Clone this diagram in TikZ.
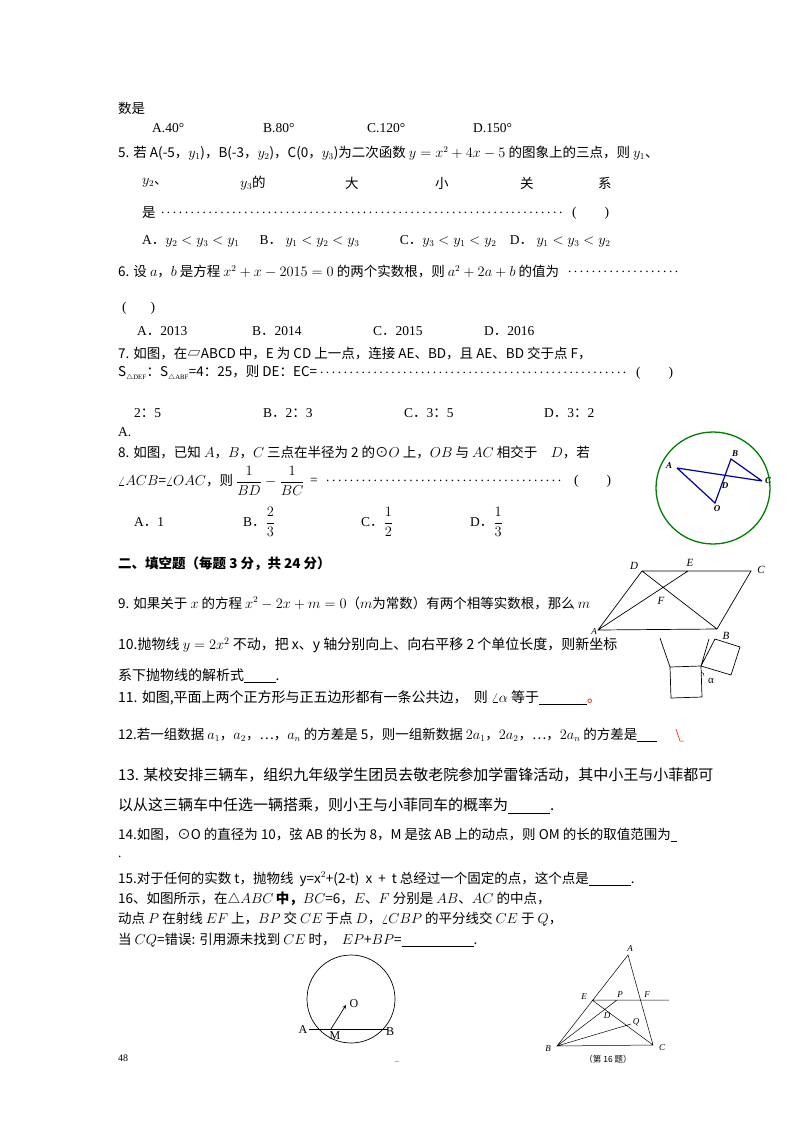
\documentclass[tikz,border=0pt]{standalone}
\usepackage{amsmath}
\usepackage{fontspec}
\setmainfont{Liberation Serif}
\newfontfamily\cjk{Noto Sans CJK SC}
\newcommand{\fp}{{\cjk ．}}
\newcommand{\fc}{{\cjk ：}}
\begin{document}
\begin{tikzpicture}[x=1pt,y=-1pt,
 t/.style={anchor=west,inner sep=0pt,font=\fontsize{13.5}{15}\selectfont},
 tl/.style={anchor=west,inner sep=0pt,font=\fontsize{15}{16}\selectfont},
 dots/.style={anchor=west,inner sep=0pt,font=\fontsize{13.5}{15}\selectfont},
 lab/.style={inner sep=0pt,font=\fontsize{9}{10}\selectfont\itshape},
 ln/.style={line width=0.7pt}]
\useasboundingbox[fill=white] (0,0) rectangle (800,1132);
\node[t] (l1) at (118,108) {\cjk 数是};
\node[t] (o1) at (152,128) {A.40°};
\node[t] (o2) at (263,128) {B.80°};
\node[t] (o3) at (367,128) {C.120°};
\node[t] (o4) at (473,128) {D.150°};
\node[t] (q5) at (118,153) {\cjk 5. 若 A(-5，$y_1$)，B(-3，$y_2$)，C(0，$y_3$)为二次函数 $y=x^2+4x-5$ 的图象上的三点，则 $y_1$、};
\node[t] (q5a) at (142,183) {$y_2$\cjk 、};
\node[t] (q5b) at (240,183) {$y_3$\cjk 的};
\node[t] (q5c) at (345,183) {\cjk 大};
\node[t] (q5d) at (435,183) {\cjk 小};
\node[t] (q5e) at (520,183) {\cjk 关};
\node[t] (q5f) at (598,183) {\cjk 系};
\node[t] (q5g) at (142,213) {\cjk 是};
\node[dots] (q5d1) at (158,213) {\makebox[407pt]{\dotfill}};
\node[t] (q5p) at (572,213) {(\hspace{28pt})};
\node[t] (q5o) at (142,241) {A\fp$y_2<y_3<y_1$\quad\ \ B\fp\ $y_1<y_2<y_3$\qquad\quad C\fp$y_3<y_1<y_2$\quad D\fp\ $y_1<y_3<y_2$};
\node[t] (q6) at (118,272) {\cjk 6. 设 $a$，$b$ 是方程 $x^2+x-2015=0$ 的两个实数根，则 $a^2+2a+b$ 的值为};
\node[dots] (q6d) at (566,272) {\makebox[114pt]{\dotfill}};
\node[t] (q6p) at (122,308) {(\hspace{24pt})};
\node[t] (q6o1) at (137,331) {A\fp 2013};
\node[t] (q6o2) at (252,331) {B\fp 2014};
\node[t] (q6o3) at (373,331) {C\fp 2015};
\node[t] (q6o4) at (484,331) {D\fp 2016};
\node[t] (q7) at (118,353) {\cjk 7. 如图，在▱ABCD 中，E 为 CD 上一点，连接 AE、BD，且 AE、BD 交于点 F，};
\node[t] (q7b) at (118,373) {\cjk S$_{\scriptscriptstyle\triangle\mathrm{DEF}}$：S$_{\scriptscriptstyle\triangle\mathrm{ABF}}$=4：25，则 DE：EC=};
\node[dots] (q7d) at (318,373) {\makebox[310pt]{\dotfill}};
\node[t] (q7p) at (636,373) {(\hspace{28pt})};
\node[t] (q7o1) at (134,413) {2\fc 5};
\node[t] (q7o2) at (263,413) {B\fp 2\fc 3};
\node[t] (q7o3) at (404,413) {C\fp 3\fc 5};
\node[t] (q7o4) at (544,413) {D\fp 3\fc 2};
\node[t] (q7A) at (118,432) {A.};
\node[t] (q8) at (118,452) {\cjk 8. 如图，已知 $A$，$B$，$C$ 三点在半径为 2 的⊙$O$ 上，$OB$ 与 $AC$ 相交于\quad $D$，若};
\node[t] (q8b) at (118,481) {\cjk $\angle ACB$=$\angle OAC$，则 $\dfrac{1}{BD}-\dfrac{1}{BC}$};
\node[t] (q8eq) at (310,481) {=};
\node[dots] (q8d) at (322,481) {\makebox[243pt]{\dotfill}};
\node[t] (q8p) at (574,481) {(\hspace{28pt})};
\node[t] (q8o1) at (134,522) {A\fp 1};
\node[t] (q8o2) at (243,522) {B\fp $\dfrac{2}{3}$};
\node[t] (q8o3) at (361,522) {C\fp $\dfrac{1}{2}$};
\node[t] (q8o4) at (470,522) {D\fp $\dfrac{1}{3}$};
\node[t] (s2) at (118,564) {\cjk\bfseries 二、填空题（每题 3 分，共 24 分）};
\node[t] (q9) at (118,603) {\cjk 9. 如果关于 $x$ 的方程 $x^2-2x+m=0$（$m$为常数）有两个相等实数根，那么 $m$};
\node[t,font=\fontsize{14}{15}\selectfont] (q10) at (118,645) {\cjk 10.抛物线 $y=2x^2$ 不动，把 x、y 轴分别向上、向右平移 2 个单位长度，则新坐标};
\node[t,font=\fontsize{14}{15}\selectfont] (q10b) at (118,676) {\cjk 系下抛物线的解析式\underline{\ \ \ \ \ \ \ \ \ \ }.};
\node[t,font=\fontsize{14}{15}\selectfont] (q11) at (118,698) {\cjk 11. 如图,平面上两个正方形与正五边形都有一条公共边，\ \ 则 $\angle\alpha$ 等于\underline{\hspace{48pt}}{\color{red}。}};
\node[t] (q12) at (118,735) {\cjk 12.若一组数据 $a_1$，$a_2$，…，$a_n$ 的方差是 5，则一组新数据 $2a_1$，$2a_2$，…，$2a_n$ 的方差是\underline{\hspace{20pt}}};
\node[tl] (q13) at (118,775) {\cjk 13. 某校安排三辆车，组织九年级学生团员去敬老院参加学雷锋活动，其中小王与小菲都可};
\node[tl] (q13b) at (118,806) {\cjk 以从这三辆车中任选一辆搭乘，则小王与小菲同车的概率为\underline{\hspace{42pt}}.};
\node[t] (q14) at (118,835) {\cjk 14.如图，⊙O 的直径为 10，弦 AB 的长为 8，M 是弦 AB 上的动点，则 OM 的长的取值范围为\underline{\ \ }};
\node[t] (q14b) at (118,857) {.};
\node[t] (q15) at (118,879) {\cjk 15.对于任何的实数 t，抛物线\ \ y=x$^2$+(2-t)\ \ x\ \ +\ \ t 总经过一个固定的点，这个点是\underline{\hspace{42pt}}.};
\node[t] (q16) at (118,899) {\cjk 16、如图所示，在$\triangle ABC$\,\bfseries 中，\mdseries $BC$=6，$E$、$F$ 分别是 $AB$、$AC$ 的中点，};
\node[t] (q16b) at (118,919) {\cjk 动点 $P$ 在射线 $EF$ 上，$BP$ 交 $CE$ 于点 $D$，$\angle CBP$ 的平分线交 $CE$ 于 $Q$，};
\node[t] (q16c) at (118,940) {\cjk 当 $CQ$=错误: 引用源未找到 $CE$ 时，\ \ $EP$+$BP$=\underline{\hspace{72pt}}.};
\node[t] (pg) at (118,1058) {\fontsize{10}{11}\selectfont 48};
\node[t] (dd) at (395,1062) {\fontsize{8}{9}\selectfont ..};
% Q8 circle
\draw[green!50!black,line width=1.3pt] (713,488) ellipse (57 and 56);
\coordinate (cA) at (677,468); \coordinate (cB) at (731,459); \coordinate (cC) at (762,481);
\coordinate (cO) at (715,503); \coordinate (cD) at (726,476);
\draw[blue!60!black,line width=1.2pt] (cA)--(cC) (cA)--(cO)--(cB)--(cC);
\node[lab,font=\fontsize{9}{10}\selectfont\bfseries\itshape] at (669,466) {A};
\node[lab,font=\fontsize{9}{10}\selectfont\bfseries\itshape] at (735,454) {B};
\node[lab,font=\fontsize{9}{10}\selectfont\bfseries\itshape] at (768,481) {C};
\node[lab,font=\fontsize{9}{10}\selectfont\bfseries\itshape] at (725,486) {D};
\node[lab,font=\fontsize{9}{10}\selectfont\bfseries\itshape] at (717,509) {O};
% parallelogram
\coordinate (pD) at (642,571); \coordinate (pE) at (688,571); \coordinate (pC) at (751,571);
\coordinate (pA) at (598,630); \coordinate (pB) at (717,629);
\draw[ln] (pA)--(pB)--(pC)--(pD)--cycle (pD)--(pB) (pA)--(pE);
\node[lab,font=\fontsize{11}{12}\selectfont\itshape] at (634,566) {D};
\node[lab,font=\fontsize{11}{12}\selectfont\itshape] at (690,563) {E};
\node[lab,font=\fontsize{11}{12}\selectfont\itshape] at (761,570) {C};
\node[lab,font=\fontsize{11}{12}\selectfont\itshape] at (661,601) {F};
\node[lab,font=\fontsize{11}{12}\selectfont\itshape] at (726,636) {B};
\node[lab,font=\fontsize{9}{10}\selectfont\itshape] at (594,632) {A};
% squares
\draw[ln] (660,638)--(670,667)--(701,666)--(702,697)--(671,698)--(670,667);
\draw[ln] (709,639)--(701,666)--(715,639)--(740,647)--(731,675)--(701,666);
\draw[line width=0.4pt] (701,672) arc (-90:20:3);
\node[inner sep=0pt,font=\fontsize{11}{12}\selectfont] at (711,681) {α};
% Q12 red mark
\draw[red,line width=0.5pt] (676,729)--(680,741)--(684,741);
% Q14 circle
\draw[ln] (351,999) circle (44);
\coordinate (mA) at (309,1029); \coordinate (mB) at (388,1029);
\coordinate (mM) at (331,1029); \coordinate (mO) at (346,1005);
\draw[ln] (mA)--(mB);
\draw[ln,-stealth] (mM)--(mO);
\node[inner sep=0pt,font=\fontsize{12}{13}\selectfont] at (354,1004) {O};
\node[inner sep=0pt,font=\fontsize{12}{13}\selectfont] at (303,1030) {A};
\node[inner sep=0pt,font=\fontsize{12}{13}\selectfont] at (335,1036) {M};
\node[inner sep=0pt,font=\fontsize{12}{13}\selectfont] at (390,1032) {B};
% triangle 16
\coordinate (tA) at (628,955); \coordinate (tB) at (557,1046); \coordinate (tC) at (653,1045);
\coordinate (tE) at (592,1000); \coordinate (tF) at (640,1000); \coordinate (tR) at (669,1000);
\coordinate (tP) at (617,1000); \coordinate (tQ) at (631,1024);
\draw[line width=0.5pt] (tA)--(tB)--(tC)--cycle (tE)--(tR) (tB)--(tP) (tE)--(tC) (tB)--(tQ);
\node[lab] at (630,949) {A};
\node[lab] at (584,997) {E};
\node[lab] at (620,995) {P};
\node[lab] at (647,995) {F};
\node[lab] at (607,1016) {D};
\node[lab] at (636,1022) {Q};
\node[lab] at (548,1049) {B};
\node[lab] at (662,1048) {C};
\node[inner sep=0pt,font=\fontsize{8.5}{9}\selectfont\cjk] at (608,1059) {（第 16 题）};
\end{tikzpicture}
\end{document}
